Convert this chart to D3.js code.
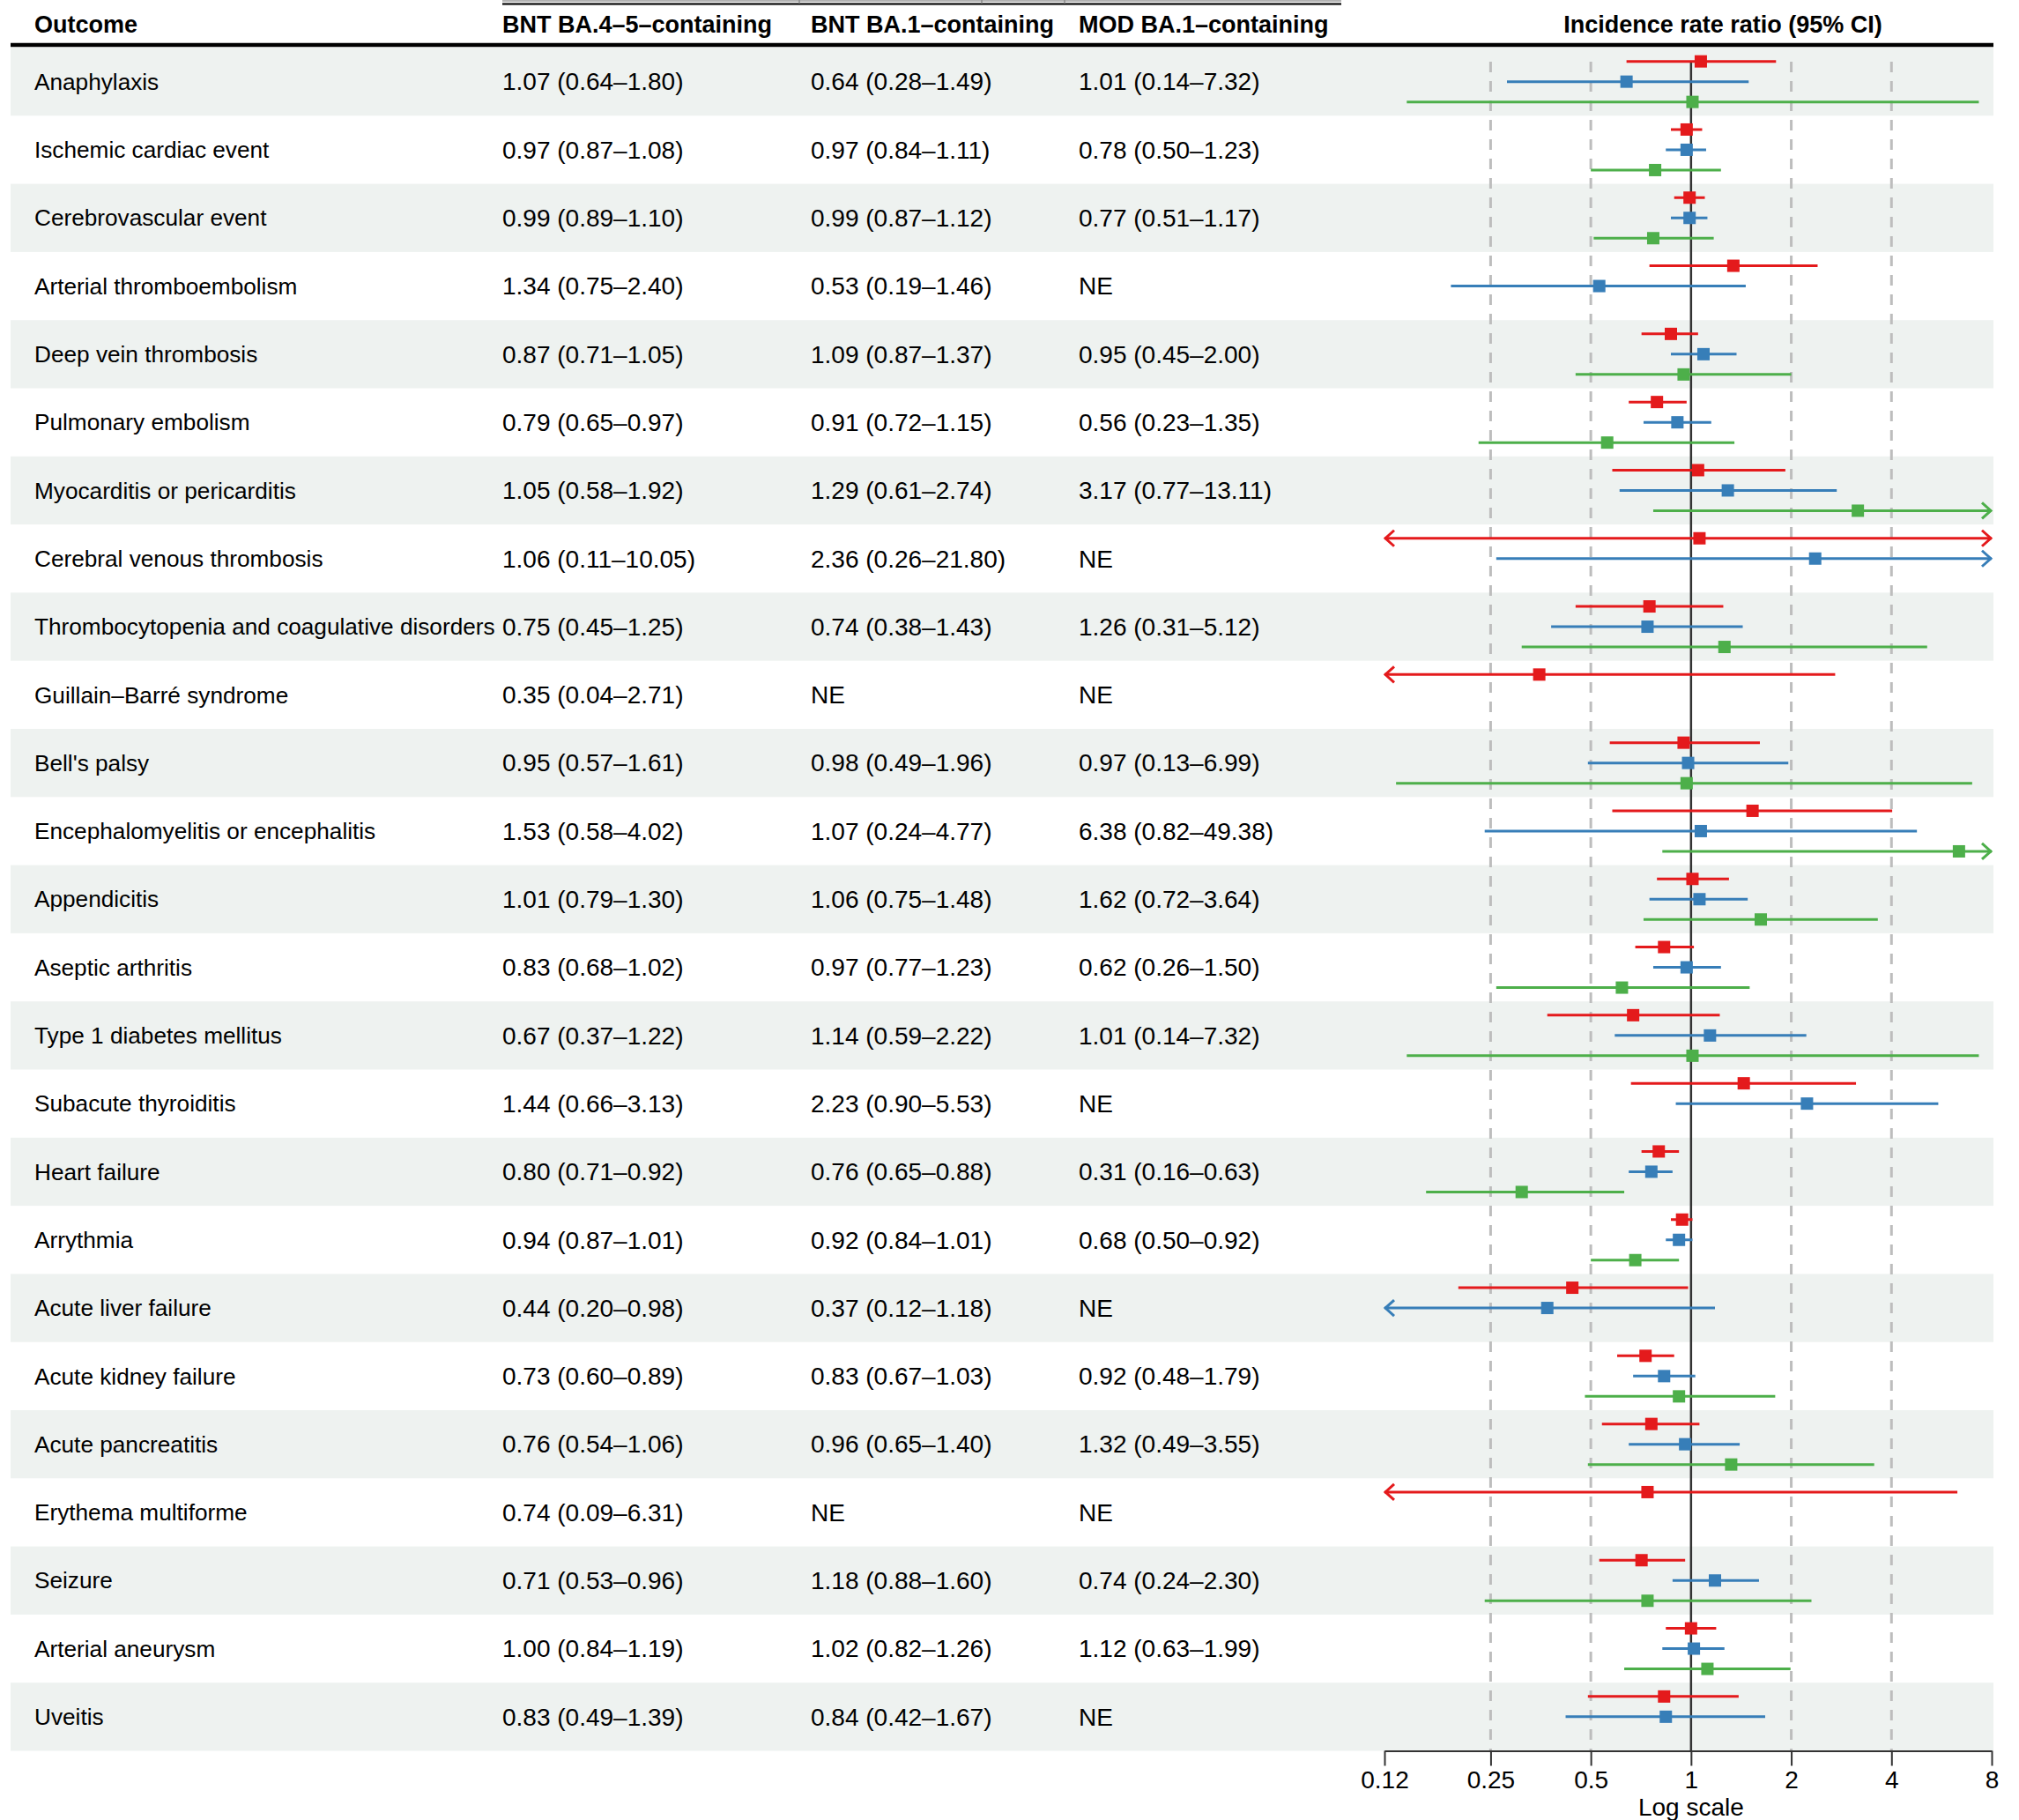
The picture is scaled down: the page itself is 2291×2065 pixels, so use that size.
<!DOCTYPE html>
<html>
<head>
<meta charset="utf-8">
<script src="https://cdn.jsdelivr.net/npm/d3@7"></script>
<style>
  body { margin: 0; background: #fff; }
  text { font-family: "Liberation Sans", Arial, sans-serif; fill: #000; }
</style>
</head>
<body>
<div id="chart"></div>
<script>
var outcomes = ["Anaphylaxis", "Ischemic cardiac event", "Cerebrovascular event", "Arterial thromboembolism",
  "Deep vein thrombosis", "Pulmonary embolism", "Myocarditis or pericarditis", "Cerebral venous thrombosis",
  "Thrombocytopenia and coagulative disorders", "Guillain\u2013Barré syndrome", "Bell's palsy",
  "Encephalomyelitis or encephalitis", "Appendicitis", "Aseptic arthritis", "Type 1 diabetes mellitus",
  "Subacute thyroiditis", "Heart failure", "Arrythmia", "Acute liver failure", "Acute kidney failure",
  "Acute pancreatitis", "Erythema multiforme", "Seizure", "Arterial aneurysm", "Uveitis"]

var seriesNames = ["BNT BA.4\u20135\u2013containing", "BNT BA.1\u2013containing", "MOD BA.1\u2013containing"]
var seriesColors = ["#E41A1C", "#377EB8", "#4DAF4A"]

// [irr, lower, upper], null = NE
var bntBA45 = [[1.07,0.64,1.80],[0.97,0.87,1.08],[0.99,0.89,1.10],[1.34,0.75,2.40],[0.87,0.71,1.05],
  [0.79,0.65,0.97],[1.05,0.58,1.92],[1.06,0.11,10.05],[0.75,0.45,1.25],[0.35,0.04,2.71],[0.95,0.57,1.61],
  [1.53,0.58,4.02],[1.01,0.79,1.30],[0.83,0.68,1.02],[0.67,0.37,1.22],[1.44,0.66,3.13],[0.80,0.71,0.92],
  [0.94,0.87,1.01],[0.44,0.20,0.98],[0.73,0.60,0.89],[0.76,0.54,1.06],[0.74,0.09,6.31],[0.71,0.53,0.96],
  [1.00,0.84,1.19],[0.83,0.49,1.39]]
var bntBA1 = [[0.64,0.28,1.49],[0.97,0.84,1.11],[0.99,0.87,1.12],[0.53,0.19,1.46],[1.09,0.87,1.37],
  [0.91,0.72,1.15],[1.29,0.61,2.74],[2.36,0.26,21.80],[0.74,0.38,1.43],null,[0.98,0.49,1.96],
  [1.07,0.24,4.77],[1.06,0.75,1.48],[0.97,0.77,1.23],[1.14,0.59,2.22],[2.23,0.90,5.53],[0.76,0.65,0.88],
  [0.92,0.84,1.01],[0.37,0.12,1.18],[0.83,0.67,1.03],[0.96,0.65,1.40],null,[1.18,0.88,1.60],
  [1.02,0.82,1.26],[0.84,0.42,1.67]]
var modBA1 = [[1.01,0.14,7.32],[0.78,0.50,1.23],[0.77,0.51,1.17],null,[0.95,0.45,2.00],
  [0.56,0.23,1.35],[3.17,0.77,13.11],null,[1.26,0.31,5.12],null,[0.97,0.13,6.99],
  [6.38,0.82,49.38],[1.62,0.72,3.64],[0.62,0.26,1.50],[1.01,0.14,7.32],null,[0.31,0.16,0.63],
  [0.68,0.50,0.92],null,[0.92,0.48,1.79],[1.32,0.49,3.55],null,[0.74,0.24,2.30],
  [1.12,0.63,1.99],null]

var tickValues = [0.12, 0.25, 0.5, 1, 2, 4, 8]
var tickLabels = ["0.12", "0.25", "0.5", "1", "2", "4", "8"]
var gridValues = [0.25, 0.5, 2, 4]

var W = 2291, H = 2065
var fs = 27
var rowTop = 54, rowH = 77.3
var colX = [39, 570, 920, 1224]
var series = [bntBA45, bntBA1, modBA1]

var svg = d3.select("#chart").append("svg")
    .attr("width", W).attr("height", H)

var x = d3.scaleLog().domain([0.12, 8]).range([1571, 2260])
var y = d3.scaleBand().domain(d3.range(outcomes.length))
    .range([rowTop, rowTop + rowH * outcomes.length])

function fmt(v) {
    if (v == null) return "NE"
    return v[0].toFixed(2) + " (" + v[1].toFixed(2) + "\u2013" + v[2].toFixed(2) + ")"
}

// shaded bands
svg.selectAll("rect.band")
    .data(outcomes.filter(function(d, i) { return i % 2 == 0 }))
    .enter().append("rect")
        .attr("class", "band")
        .attr("x", 12)
        .attr("y", function(d) { return y(outcomes.indexOf(d)) })
        .attr("width", 2262 - 12)
        .attr("height", y.bandwidth())
        .attr("fill", "#EEF2F0")

// leftover spanning line at the very top
svg.append("line").attr("x1", 570).attr("x2", 1522).attr("y1", 1).attr("y2", 1)
    .attr("stroke", "#999").attr("stroke-width", 1.5)
svg.append("line").attr("x1", 570).attr("x2", 1522).attr("y1", 4.5).attr("y2", 4.5)
    .attr("stroke", "#222").attr("stroke-width", 2.5)
svg.selectAll("line.stub").data([907, 1114, 1208]).enter().append("line")
    .attr("x1", function(d) { return d }).attr("x2", function(d) { return d })
    .attr("y1", 0).attr("y2", 4).attr("stroke", "#888").attr("stroke-width", 1.5)

// header
var headers = ["Outcome"].concat(seriesNames)
svg.selectAll("text.head").data(headers).enter().append("text")
    .attr("x", function(d, i) { return colX[i] })
    .attr("y", 28).attr("dy", "0.35em")
    .attr("font-size", fs).attr("font-weight", "bold")
    .text(function(d) { return d })

svg.append("text").attr("x", 1955).attr("y", 28).attr("dy", "0.35em")
    .attr("text-anchor", "middle").attr("font-size", fs).attr("font-weight", "bold")
    .text("Incidence rate ratio (95% CI)")

svg.append("line").attr("x1", 12).attr("x2", 2262).attr("y1", 51).attr("y2", 51)
    .attr("stroke", "#000").attr("stroke-width", 4.5)

// table text
var rows = svg.selectAll("g.row").data(outcomes).enter().append("g")
    .attr("class", "row")
    .attr("transform", function(d, i) { return "translate(0," + (y(i) + y.bandwidth() / 2) + ")" })

rows.append("text").attr("x", colX[0]).attr("dy", "0.35em").attr("font-size", 26.2)
    .text(function(d) { return d })
series.forEach(function(s, k) {
    rows.append("text").attr("x", colX[k + 1]).attr("dy", "0.35em").attr("font-size", 28)
        .text(function(d, i) { return fmt(s[i]) })
})

// grid + reference line
var gTop = rowTop + 16, gBot = rowTop + rowH * outcomes.length
svg.selectAll("line.grid").data(gridValues).enter().append("line")
    .attr("x1", function(d) { return x(d) }).attr("x2", function(d) { return x(d) })
    .attr("y1", gTop).attr("y2", gBot)
    .attr("stroke", "#BDBDBD").attr("stroke-width", 3).attr("stroke-dasharray", "12,10")
svg.append("line").attr("x1", x(1)).attr("x2", x(1)).attr("y1", gTop).attr("y2", gBot)
    .attr("stroke", "#333").attr("stroke-width", 2.5)

// CIs and points
var offs = [-23, 0, 23]
var xmin = x.domain()[0], xmax = x.domain()[1]
series.forEach(function(s, k) {
    var pts = s.map(function(v, i) { return { v: v, i: i } }).filter(function(d) { return d.v != null })
    var g = svg.append("g").attr("stroke", seriesColors[k]).attr("fill", seriesColors[k])
    pts.forEach(function(d) {
        var cy = y(d.i) + y.bandwidth() / 2 + offs[k]
        var lo = Math.max(d.v[1], xmin), hi = Math.min(d.v[2], xmax)
        g.append("line").attr("x1", x(lo)).attr("x2", x(hi)).attr("y1", cy).attr("y2", cy)
            .attr("stroke-width", 3)
        if (d.v[1] <= xmin) {
            g.append("path").attr("fill", "none").attr("stroke-width", 3)
                .attr("d", "M" + (x(xmin) + 11) + "," + (cy - 9) + "L" + (x(xmin) + 1) + "," + cy + "L" + (x(xmin) + 11) + "," + (cy + 9))
        }
        if (d.v[2] >= xmax) {
            g.append("path").attr("fill", "none").attr("stroke-width", 3)
                .attr("d", "M" + (x(xmax) - 11) + "," + (cy - 9) + "L" + (x(xmax) - 1) + "," + cy + "L" + (x(xmax) - 11) + "," + (cy + 9))
        }
        g.append("rect").attr("stroke", "none")
            .attr("x", x(d.v[0]) - 7).attr("y", cy - 7)
            .attr("width", 14).attr("height", 14)
    })
})

// axis
var axis = svg.append("g").attr("transform", "translate(0," + gBot + ")")
    .call(d3.axisBottom(x).tickValues(tickValues)
        .tickFormat(function(d, i) { return tickLabels[i] })
        .tickSize(17).tickSizeOuter(0).tickPadding(6))
axis.select(".domain").attr("stroke", "#333").attr("stroke-width", 2)
axis.selectAll(".tick line").attr("stroke", "#333").attr("stroke-width", 2)
axis.selectAll(".tick text").attr("font-size", 28).attr("fill", "#000")
    .attr("font-family", "Liberation Sans, Arial, sans-serif")

svg.append("text").attr("x", x(1)).attr("y", 2050).attr("dy", "0.35em")
    .attr("text-anchor", "middle").attr("font-size", 28).text("Log scale")
</script>
</body>
</html>
